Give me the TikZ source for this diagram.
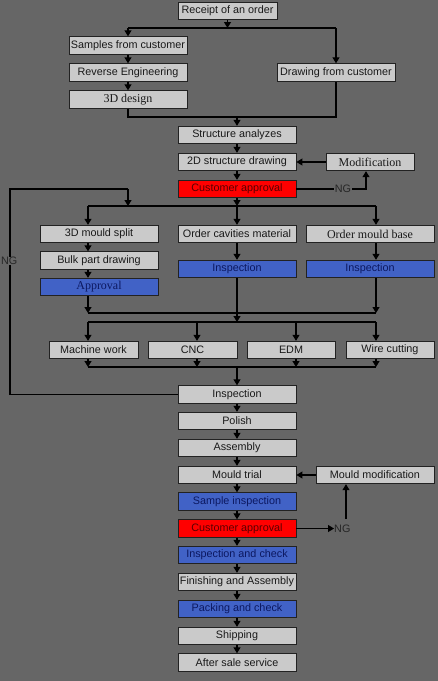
\documentclass[tikz,border=0pt]{standalone}
\usepackage{fontspec}
\setmainfont{Liberation Sans}
\newfontfamily\serifbox{Liberation Serif}
\usetikzlibrary{arrows.meta}
\definecolor{bgc}{HTML}{666666}
\definecolor{boxgray}{HTML}{CACACA}
\definecolor{boxblue}{HTML}{4162C6}
\definecolor{txtblue}{HTML}{0C1860}
\definecolor{boxred}{HTML}{FF0000}
\definecolor{txtred}{HTML}{5A0000}
\definecolor{edge}{HTML}{222222}
\tikzset{
  base/.style={rectangle, draw=edge, line width=0.9pt, inner sep=0pt, minimum height=17.5pt,
    font=\fontsize{10.8}{12}\selectfont, text=black!90},
  gbox/.style={base, fill=boxgray},
  bbox/.style={base, fill=boxblue, text=txtblue},
  rbox/.style={base, fill=boxred, text=txtred},
  sf/.style={font=\fontsize{12}{13}\serifbox\selectfont},
  lbl/.style={inner sep=1pt, fill=bgc, text=black!85, font=\fontsize{10.8}{12}\selectfont},
  conn/.style={draw=black, line width=1.1pt},
  arr/.style={conn, -{Triangle[width=7pt,length=6pt]}}
}
\begin{document}
\begin{tikzpicture}[x=1pt,y=-1pt]
\fill[bgc] (0,0) rectangle (438,681);
\useasboundingbox (0,0) rectangle (438,681);
% nodes
\node[gbox, minimum width=99pt] (rec) at (227.5,11) {Receipt of an order};
\node[gbox, minimum width=118pt] (sam) at (128,45.5) {Samples from customer};
\node[gbox, minimum width=118pt] (rev) at (128,72.5) {Reverse Engineering};
\node[gbox, sf, minimum width=118pt] (d3) at (128,99.5) {3D design};
\node[gbox, minimum width=118pt] (drw) at (336,72.5) {Drawing from customer};
\node[gbox, minimum width=118pt] (str) at (237,135) {Structure analyzes};
\node[gbox, minimum width=118pt] (s2d) at (237,162) {2D structure drawing};
\node[gbox, sf, minimum width=88pt] (mod) at (370,162) {Modification};
\node[rbox, minimum width=118pt] (ca1) at (237,189) {Customer approval};
\node[gbox, minimum width=118pt] (split) at (99,234) {3D mould split};
\node[gbox, minimum width=118pt] (ocm) at (237,234) {Order cavities material};
\node[gbox, sf, minimum width=128pt] (omb) at (370,234) {Order mould base};
\node[gbox, minimum width=118pt] (bulk) at (99,260.5) {Bulk part drawing};
\node[bbox, sf, minimum width=118pt] (appr) at (99,287) {Approval};
\node[bbox, minimum width=118pt] (ins1) at (237,269) {Inspection};
\node[bbox, minimum width=128pt] (ins2) at (370,269) {Inspection};
\node[gbox, minimum width=89pt] (mach) at (93.5,350) {Machine work};
\node[gbox, minimum width=89pt] (cnc) at (192.5,350) {CNC};
\node[gbox, minimum width=88pt] (edm) at (291,350) {EDM};
\node[gbox, minimum width=88pt] (wire) at (390,350) {Wire cutting};
\node[gbox, minimum width=118pt] (ins3) at (237,394.5) {Inspection};
\node[gbox, minimum width=118pt] (pol) at (237,421) {Polish};
\node[gbox, minimum width=118pt] (asm) at (237,448) {Assembly};
\node[gbox, minimum width=118pt] (trial) at (237,475) {Mould trial};
\node[gbox, minimum width=118pt] (mmod) at (375,475) {Mould modification};
\node[bbox, minimum width=118pt] (samp) at (237,501.5) {Sample inspection};
\node[rbox, minimum width=118pt] (ca2) at (237,528.5) {Customer approval};
\node[bbox, minimum width=118pt] (ic) at (237,555) {Inspection and check};
\node[gbox, minimum width=118pt] (fin) at (237,582) {Finishing and Assembly};
\node[bbox, minimum width=118pt] (pack) at (237,609) {Packing and check};
\node[gbox, minimum width=118pt] (ship) at (237,636) {Shipping};
\node[gbox, minimum width=118pt] (after) at (237,662.5) {After sale service};
% coordinates
\coordinate (b0) at (227.5,28);
\coordinate (b0l) at (128,28);
\coordinate (b0r) at (336,28);
\coordinate (b1l) at (128,117);
\coordinate (b1m) at (237,117);
\coordinate (b1r) at (336,117);
\coordinate (b2) at (237,206);
\coordinate (b2l) at (88,206);
\coordinate (b2r) at (376,206);
\coordinate (b3l) at (88,313);
\coordinate (b3r) at (376,313);
\coordinate (b4) at (237,322);
\coordinate (b4l) at (88,322);
\coordinate (b4a) at (197,322);
\coordinate (b4b) at (296,322);
\coordinate (b4r) at (376,322);
\coordinate (b5) at (237,367);
\coordinate (b5l) at (88,367);
\coordinate (b5a) at (197,367);
\coordinate (b5b) at (296,367);
\coordinate (b5r) at (376,367);
\coordinate (ngc) at (10,394.5);
\coordinate (ngt) at (10,189);
\coordinate (ngj) at (128,189);
\coordinate (ngk) at (128,206);
\coordinate (ng1r) at (366,189);
\coordinate (ng2t) at (346,519);
% top part
\draw[arr] (rec.south) -- (b0);
\draw[conn] (b0l) -- (b0r);
\draw[arr] (b0l) -- (sam.north);
\draw[arr] (b0r) -- (drw.north);
\draw[arr] (sam) -- (rev);
\draw[arr] (rev) -- (d3);
\draw[conn] (d3.south) -- (b1l) -- (b1r) -- (drw.south);
\draw[arr] (b1m) -- (str.north);
\draw[arr] (str) -- (s2d);
\draw[arr] (s2d) -- (ca1);
\draw[arr] (mod) -- (s2d);
\node[lbl] (ng1) at (343,189) {NG};
\draw[conn] (ca1.east) -- (ng1.west);
\draw[arr] (ng1.east) -- (ng1r) -- (ng1r |- mod.south);
% split
\draw[arr] (ca1.south) -- (b2);
\draw[conn] (b2l) -- (b2r);
\draw[arr] (b2l) -- (b2l |- split.north);
\draw[arr] (b2) -- (ocm.north);
\draw[arr] (b2r) -- (b2r |- omb.north);
\draw[arr] (b2l |- split.south) -- (b2l |- bulk.north);
\draw[arr] (b2l |- bulk.south) -- (b2l |- appr.north);
\draw[arr] (ocm) -- (ins1);
\draw[arr] (b2r |- omb.south) -- (b2r |- ins2.north);
\draw[arr] (b3l |- appr.south) -- (b3l);
\draw[arr] (b3r |- ins2.south) -- (b3r);
\draw[conn] (b3l) -- (b3r);
\draw[arr] (ins1.south) -- (b4);
\draw[conn] (b4l) -- (b4r);
\draw[arr] (b4l) -- (b4l |- mach.north);
\draw[arr] (b4a) -- (b4a |- cnc.north);
\draw[arr] (b4b) -- (b4b |- edm.north);
\draw[arr] (b4r) -- (b4r |- wire.north);
\draw[arr] (b5l |- mach.south) -- (b5l);
\draw[arr] (b5a |- cnc.south) -- (b5a);
\draw[arr] (b5b |- edm.south) -- (b5b);
\draw[arr] (b5r |- wire.south) -- (b5r);
\draw[conn] (b5l) -- (b5r);
\draw[arr] (b5) -- (ins3.north);
% NG loop left
\draw[conn] (ins3.west) -- (ngc) -- (ngt) -- (ngj);
\draw[arr] (ngj) -- (ngk);
\node[lbl, inner sep=0.5pt, anchor=west] (ng0) at (0.5,261) {NG};
% bottom chain
\draw[arr] (ins3) -- (pol);
\draw[arr] (pol) -- (asm);
\draw[arr] (asm) -- (trial);
\draw[arr] (trial) -- (samp);
\draw[arr] (samp) -- (ca2);
\draw[arr] (ca2) -- (ic);
\draw[arr] (ic) -- (fin);
\draw[arr] (fin) -- (pack);
\draw[arr] (pack) -- (ship);
\draw[arr] (ship) -- (after);
\draw[arr] (mmod) -- (trial);
\node[lbl, inner sep=0pt, anchor=west] (ng2) at (334,528.5) {NG};
\draw[arr] (ca2.east) -- (ng2.west);
\draw[arr] (ng2t) -- (ng2t |- mmod.south);
\end{tikzpicture}
\end{document}
